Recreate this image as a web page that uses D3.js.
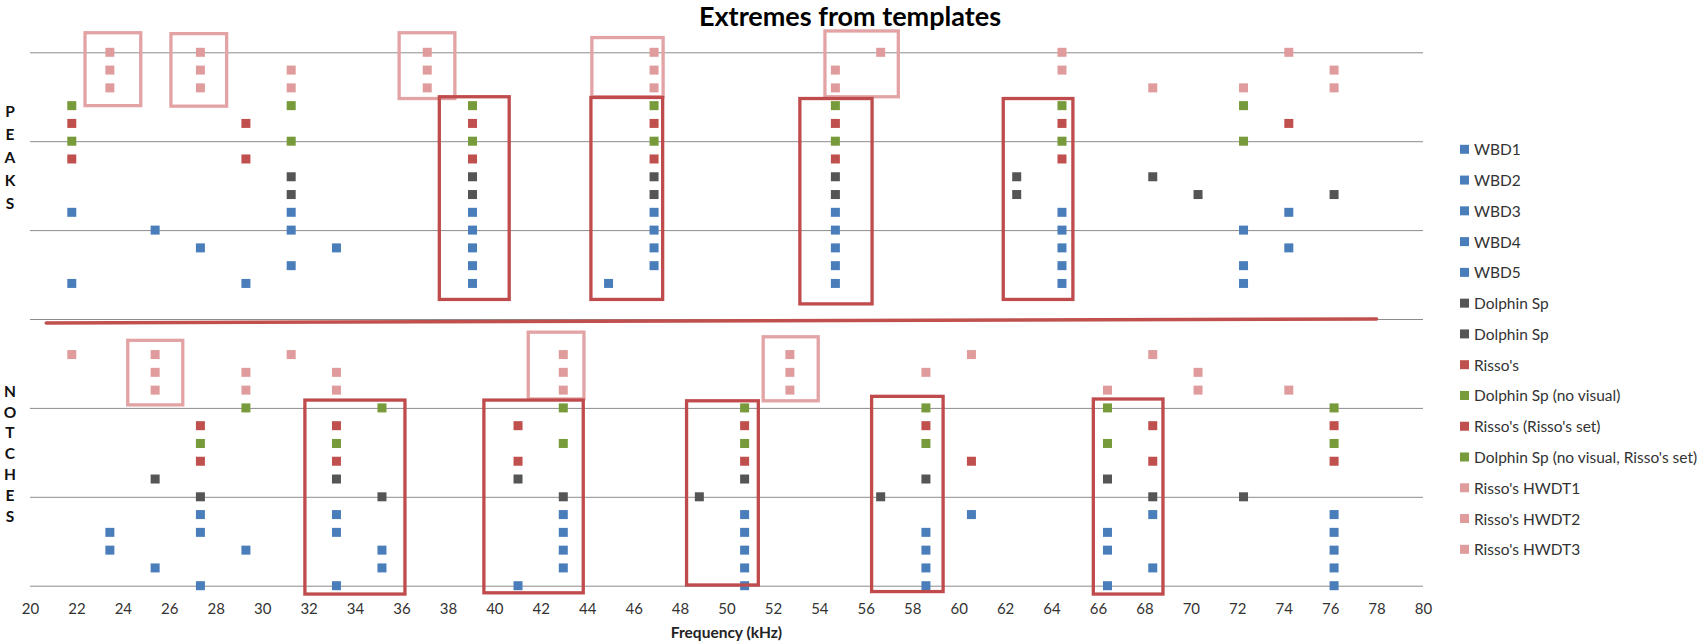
<!DOCTYPE html>
<html>
<head>
<meta charset="utf-8">
<script src="https://cdn.jsdelivr.net/npm/d3@7"></script>
<style>
  html, body { margin: 0; padding: 0; background: #fff; }
  svg { display: block; font-family: Lato, "Open Sans", sans-serif; }
</style>
</head>
<body>
<svg id="chart" width="1708" height="643"></svg>
<script>
// Series of template extremes: peak level / notch level per template
const seriesNames = ["WBD1", "WBD2", "WBD3", "WBD4", "WBD5", "Dolphin Sp", "Dolphin Sp",
  "Risso's", "Dolphin Sp (no visual)", "Risso's (Risso's set)",
  "Dolphin Sp (no visual, Risso's set)", "Risso's HWDT1", "Risso's HWDT2", "Risso's HWDT3"];
const seriesColors = ["#4a7ebb", "#4a7ebb", "#4a7ebb", "#4a7ebb", "#4a7ebb", "#555555", "#555555",
  "#c0504d", "#779a3a", "#c0504d", "#779a3a", "#e09c9c", "#e09c9c", "#e09c9c"];
const peakLevel = [17, 18, 19, 20, 21, 22, 23, 24, 25, 26, 27, 28, 29, 30];
const notchLevel = [0, 1, 2, 3, 4, 5, 6, 7, 8, 9, 10, 11, 12, 13];

// Peak frequencies (kHz) per series
const peakFreqs = [
  [21.8, 29.30, 39.06, 44.92, 54.69, 64.45, 72.27],
  [31.25, 39.06, 46.88, 54.69, 64.45, 72.27],
  [27.34, 33.20, 39.06, 46.88, 54.69, 64.45, 74.22],
  [25.39, 31.25, 39.06, 46.88, 54.69, 64.45, 72.27],
  [21.8, 31.25, 39.06, 46.88, 54.69, 64.45, 74.22],
  [31.25, 39.06, 46.88, 54.69, 62.50, 70.31, 76.17],
  [31.25, 39.06, 46.88, 54.69, 62.50, 68.36],
  [21.8, 29.30, 39.06, 46.88, 54.69, 64.45],
  [21.8, 31.25, 39.06, 46.88, 54.69, 64.45, 72.27],
  [21.8, 29.30, 39.06, 46.88, 54.69, 64.45, 74.22],
  [21.8, 31.25, 39.06, 46.88, 54.69, 64.45, 72.27],
  [23.44, 27.34, 31.25, 37.11, 46.88, 54.69, 68.36, 72.27, 76.17],
  [23.44, 27.34, 31.25, 37.11, 46.88, 54.69, 64.45, 76.17],
  [23.44, 27.34, 37.11, 46.88, 56.64, 64.45, 74.22]
];

// Notch frequencies (kHz) per series
const notchFreqs = [
  [27.34, 33.20, 41.02, 50.78, 58.59, 66.41, 76.17],
  [25.39, 35.16, 42.97, 50.78, 58.59, 68.36, 76.17],
  [23.44, 29.30, 35.16, 42.97, 50.78, 58.59, 66.41, 76.17],
  [23.44, 27.34, 33.20, 42.97, 50.78, 58.59, 66.41, 76.17],
  [27.34, 33.20, 42.97, 50.78, 60.55, 68.36, 76.17],
  [27.34, 35.16, 42.97, 48.83, 56.64, 68.36, 72.27],
  [25.39, 33.20, 41.02, 50.78, 58.59, 66.41],
  [27.34, 33.20, 41.02, 50.78, 60.55, 68.36, 76.17],
  [27.34, 33.20, 42.97, 50.78, 58.59, 66.41, 76.17],
  [27.34, 33.20, 41.02, 50.78, 58.59, 68.36, 76.17],
  [29.30, 35.16, 42.97, 50.78, 58.59, 66.41, 76.17],
  [25.39, 29.30, 33.20, 42.97, 52.73, 66.41, 70.31, 74.22],
  [25.39, 29.30, 33.20, 42.97, 52.73, 58.59, 70.31],
  [21.8, 25.39, 31.25, 42.97, 52.73, 60.55, 68.36]
];

const xTicks = [20, 22, 24, 26, 28, 30, 32, 34, 36, 38, 40, 42, 44, 46, 48, 50,
  52, 54, 56, 58, 60, 62, 64, 66, 68, 70, 72, 74, 76, 78, 80];
const yGrid = [0, 5, 10, 15, 20, 25, 30];

// Highlight boxes in data units: [fLow, fHigh, levelLow, levelHigh]
const pinkBoxes = [
  [22.37, 24.77, 27.0, 31.1], [26.07, 28.47, 26.97, 31.05], [35.9, 38.3, 27.4, 31.1],
  [44.2, 47.27, 27.5, 30.83], [54.24, 57.4, 27.5, 31.2],
  [24.21, 26.58, 10.17, 13.8], [41.46, 43.86, 10.5, 14.26], [51.58, 53.95, 10.4, 14.0]
];
const redBoxes = [
  [37.63, 40.64, 16.1, 27.5], [44.16, 47.25, 16.1, 27.46], [53.16, 56.27, 15.85, 27.4],
  [61.92, 64.92, 16.1, 27.4],
  [31.84, 36.15, -0.47, 10.44], [39.55, 43.83, -0.4, 10.44], [48.28, 51.37, 0.04, 10.4],
  [56.25, 59.33, -0.33, 10.65], [65.8, 68.8, -0.47, 10.5]
];
// Divider between peak and notch sections: [f, level] end points
const divider = [[20.7, 14.78], [78.0, 15.0]];

const sectionLabels = ["PEAKS", "NOTCHES"];

const svg = d3.select("#chart");
const plot = { left: 30, right: 1423, top: 52.3, bottom: 585.7 };

const x = d3.scaleLinear().domain([20, 80]).range([plot.left, plot.right]);
const y = d3.scaleLinear().domain([0, 30]).range([plot.bottom, plot.top]);

// Horizontal gridlines
svg.append("g")
  .attr("transform", `translate(${plot.left},0)`)
  .call(d3.axisLeft(y).tickValues(yGrid).tickSize(-(plot.right - plot.left)).tickFormat(""))
  .call(g => g.select(".domain").remove())
  .call(g => g.selectAll("line").attr("stroke", "#8c8c8c").attr("stroke-width", 1));

// X axis labels
svg.append("g")
  .attr("transform", `translate(0,${plot.bottom})`)
  .call(d3.axisBottom(x).tickValues(xTicks).tickSize(0).tickPadding(18))
  .call(g => g.select(".domain").remove())
  .call(g => g.selectAll("text")
    .attr("font-family", "Lato, sans-serif")
    .attr("font-size", 15)
    .attr("fill", "#333"));

// Divider line
svg.append("line")
  .attr("x1", x(divider[0][0])).attr("y1", y(divider[0][1]))
  .attr("x2", x(divider[1][0])).attr("y2", y(divider[1][1]))
  .attr("stroke", "#c0504d").attr("stroke-width", 3.5).attr("stroke-linecap", "round");

// Points
const points = [];
seriesNames.forEach((name, i) => {
  peakFreqs[i].forEach(f => points.push({ f, v: peakLevel[i], s: i }));
  notchFreqs[i].forEach(f => points.push({ f, v: notchLevel[i], s: i }));
});
const m = 9;
svg.append("g").selectAll("rect")
  .data(points)
  .join("rect")
  .attr("x", d => x(d.f) - m / 2)
  .attr("y", d => y(d.v) - m / 2)
  .attr("width", m).attr("height", m)
  .attr("fill", d => seriesColors[d.s]);

// Highlight boxes
function drawBoxes(boxes, color) {
  svg.append("g").selectAll("rect")
    .data(boxes)
    .join("rect")
    .attr("x", d => x(d[0]))
    .attr("y", d => y(d[3]))
    .attr("width", d => x(d[1]) - x(d[0]))
    .attr("height", d => y(d[2]) - y(d[3]))
    .attr("fill", "none")
    .attr("stroke", color)
    .attr("stroke-width", 3.3);
}
drawBoxes(pinkBoxes, "#e3a3a4");
drawBoxes(redBoxes, "#bf4b4d");

// Title
svg.append("text")
  .attr("x", 850).attr("y", 26)
  .attr("text-anchor", "middle")
  .attr("font-family", "Lato, sans-serif")
  .attr("font-weight", "bold")
  .attr("font-size", 27)
  .attr("fill", "#000")
  .text("Extremes from templates");

// Axis title
svg.append("text")
  .attr("x", (plot.left + plot.right) / 2).attr("y", 638)
  .attr("text-anchor", "middle")
  .attr("font-family", "Lato, sans-serif")
  .attr("font-weight", "bold")
  .attr("font-size", 15.5)
  .attr("fill", "#222")
  .text("Frequency (kHz)");

// Vertical section labels
const sectionLayout = [{ top: 111, step: 22.9 }, { top: 390.7, step: 20.8 }];
sectionLabels.forEach((label, k) => {
  svg.append("g").selectAll("text")
    .data(label.split(""))
    .join("text")
    .attr("x", 10)
    .attr("y", (c, j) => sectionLayout[k].top + j * sectionLayout[k].step)
    .attr("text-anchor", "middle")
    .attr("dominant-baseline", "central")
    .attr("font-family", "Lato, sans-serif")
    .attr("font-weight", "bold")
    .attr("font-size", 15.5)
    .attr("fill", "#111")
    .text(c => c);
});

// Legend
const legend = svg.append("g").attr("transform", "translate(1460,149.3)");
const legendRow = legend.selectAll("g")
  .data(seriesNames)
  .join("g")
  .attr("transform", (d, i) => `translate(0,${i * 30.77})`);
legendRow.append("rect")
  .attr("x", 0).attr("y", -4.5)
  .attr("width", 9).attr("height", 9)
  .attr("fill", (d, i) => seriesColors[i]);
legendRow.append("text")
  .attr("x", 14).attr("y", 0)
  .attr("dominant-baseline", "central")
  .attr("font-family", "Lato, sans-serif")
  .attr("font-size", 15.5)
  .attr("fill", "#333")
  .text(d => d);
</script>
</body>
</html>
